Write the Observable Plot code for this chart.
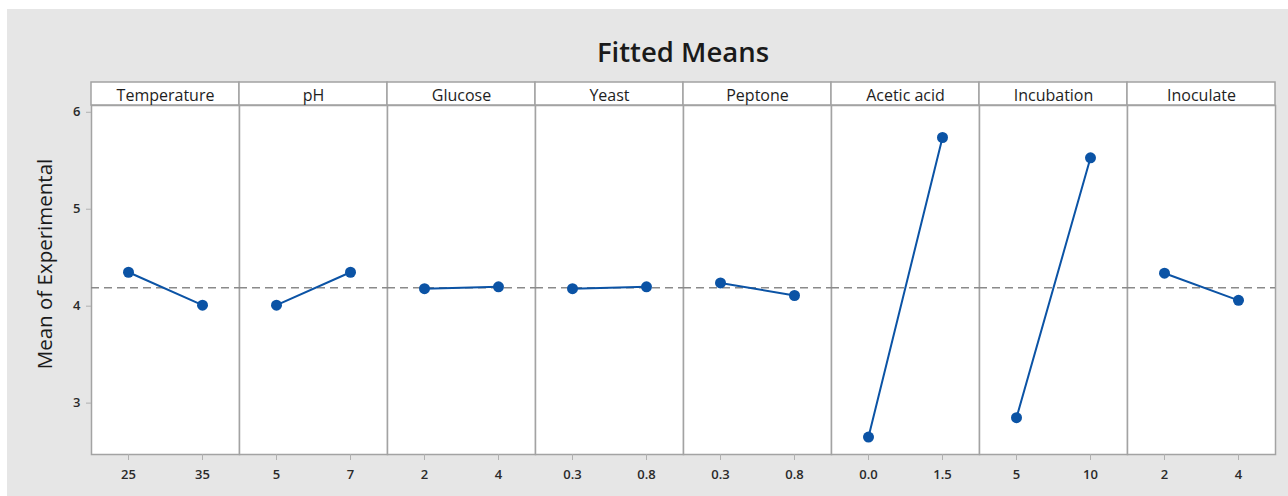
<!DOCTYPE html>
<html>
<head>
<meta charset="utf-8">
<script src="https://cdn.jsdelivr.net/npm/d3@7"></script>
<script src="https://cdn.jsdelivr.net/npm/@observablehq/plot@0.6"></script>
<style>
  html, body { margin: 0; padding: 0; background: #ffffff; }
  #panel {
    position: absolute; left: 7px; top: 9px; width: 1281px; height: 487px;
    background: #e6e6e6; font-family: "Open Sans", sans-serif;
  }
  #title {
    height: 58px; box-sizing: border-box; padding: 29px 13px 0 84px;
    text-align: center; font-size: 27.5px; font-weight: 600; color: #1a1a1a; line-height: 1;
  }
  #chart svg { display: block; }
</style>
</head>
<body>
<div id="panel">
  <div id="title">Fitted Means</div>
  <div id="chart"></div>
</div>
<script>
// Factors and their two levels, with the fitted mean response at each level
const factors = ["Temperature", "pH", "Glucose", "Yeast", "Peptone", "Acetic acid", "Incubation", "Inoculate"];
const lowLabels = ["25", "5", "2", "0.3", "0.3", "0.0", "5", "2"];
const highLabels = ["35", "7", "4", "0.8", "0.8", "1.5", "10", "4"];
const lowMeans = [4.35, 4.01, 4.18, 4.18, 4.24, 2.65, 2.85, 4.34];
const highMeans = [4.01, 4.35, 4.20, 4.20, 4.11, 5.74, 5.53, 4.06];
const grandMean = 4.19;
const yTicks = [3, 4, 5, 6];
const yLabel = "Mean of Experimental";

const rows = factors.flatMap((f, i) => [
  {factor: f, level: "low", label: lowLabels[i], mean: lowMeans[i]},
  {factor: f, level: "high", label: highLabels[i], mean: highMeans[i]}
]);

const blue = "#0b53a5";
const frameGray = "#a3a3a3";

const chart = Plot.plot({
  width: 1281,
  height: 429,
  marginLeft: 84,
  marginRight: 13,
  marginTop: 38,
  marginBottom: 42,
  style: {background: "transparent", fontFamily: "Open Sans, sans-serif", color: "#1e1e1e"},
  fx: {domain: factors, padding: 0},
  x: {type: "point", domain: ["low", "high"], padding: 0.5},
  y: {domain: [2.47, 6.07]},
  marks: [
    Plot.frame({fill: "white", stroke: frameGray, strokeWidth: 1.5}),
    Plot.axisFx({anchor: "top", label: null, tickSize: 0, tickPadding: 5, fontSize: 16, fill: "#1e1e1e"}),
    Plot.axisY(yTicks, {tickSize: 5, tickPadding: 6, stroke: "#b0b0b0", fontSize: 13, fontWeight: 600, fill: "#2a2a2a", tickFormat: "d", label: null}),
    Plot.axisY([], {label: yLabel, labelAnchor: "center", labelOffset: 54, labelArrow: "none", fontSize: 20.5, fill: "#1a1a1a", tickSize: 0}),
    Plot.axisX({tickSize: 6, stroke: "#b0b0b0", tickFormat: () => "", label: null}),
    Plot.text(rows, {fx: "factor", x: "level", text: "label", frameAnchor: "bottom", dy: 24, fontSize: 13, fontWeight: 600, fill: "#2a2a2a"}),
    Plot.ruleY([grandMean], {stroke: "#8a8a8a", strokeWidth: 1.4, strokeDasharray: "8,5"}),
    Plot.line(rows, {fx: "factor", x: "level", y: "mean", stroke: blue, strokeWidth: 2}),
    Plot.dot(rows, {fx: "factor", x: "level", y: "mean", r: 5.5, fill: blue, stroke: "none"})
  ]
});

document.getElementById("chart").appendChild(chart);

const svg = d3.select(chart);

// Nudge the rotated y-axis title a little upward along its own direction
svg.selectAll("text")
  .filter(function () { return this.textContent === yLabel; })
  .each(function () {
    const t = d3.select(this);
    const x0 = +(t.attr("x") || 0);
    t.attr("x", x0 + 16);
  });

// Header strips above each facet, sized from the fx scale
const fx = chart.scale("fx");
const strips = svg.insert("g", ":first-child");
for (const f of factors) {
  strips.append("rect")
    .attr("x", fx.apply(f))
    .attr("y", 15)
    .attr("width", fx.bandwidth)
    .attr("height", 23)
    .attr("fill", "white")
    .attr("stroke", frameGray)
    .attr("stroke-width", 1.5);
}
</script>
</body>
</html>
